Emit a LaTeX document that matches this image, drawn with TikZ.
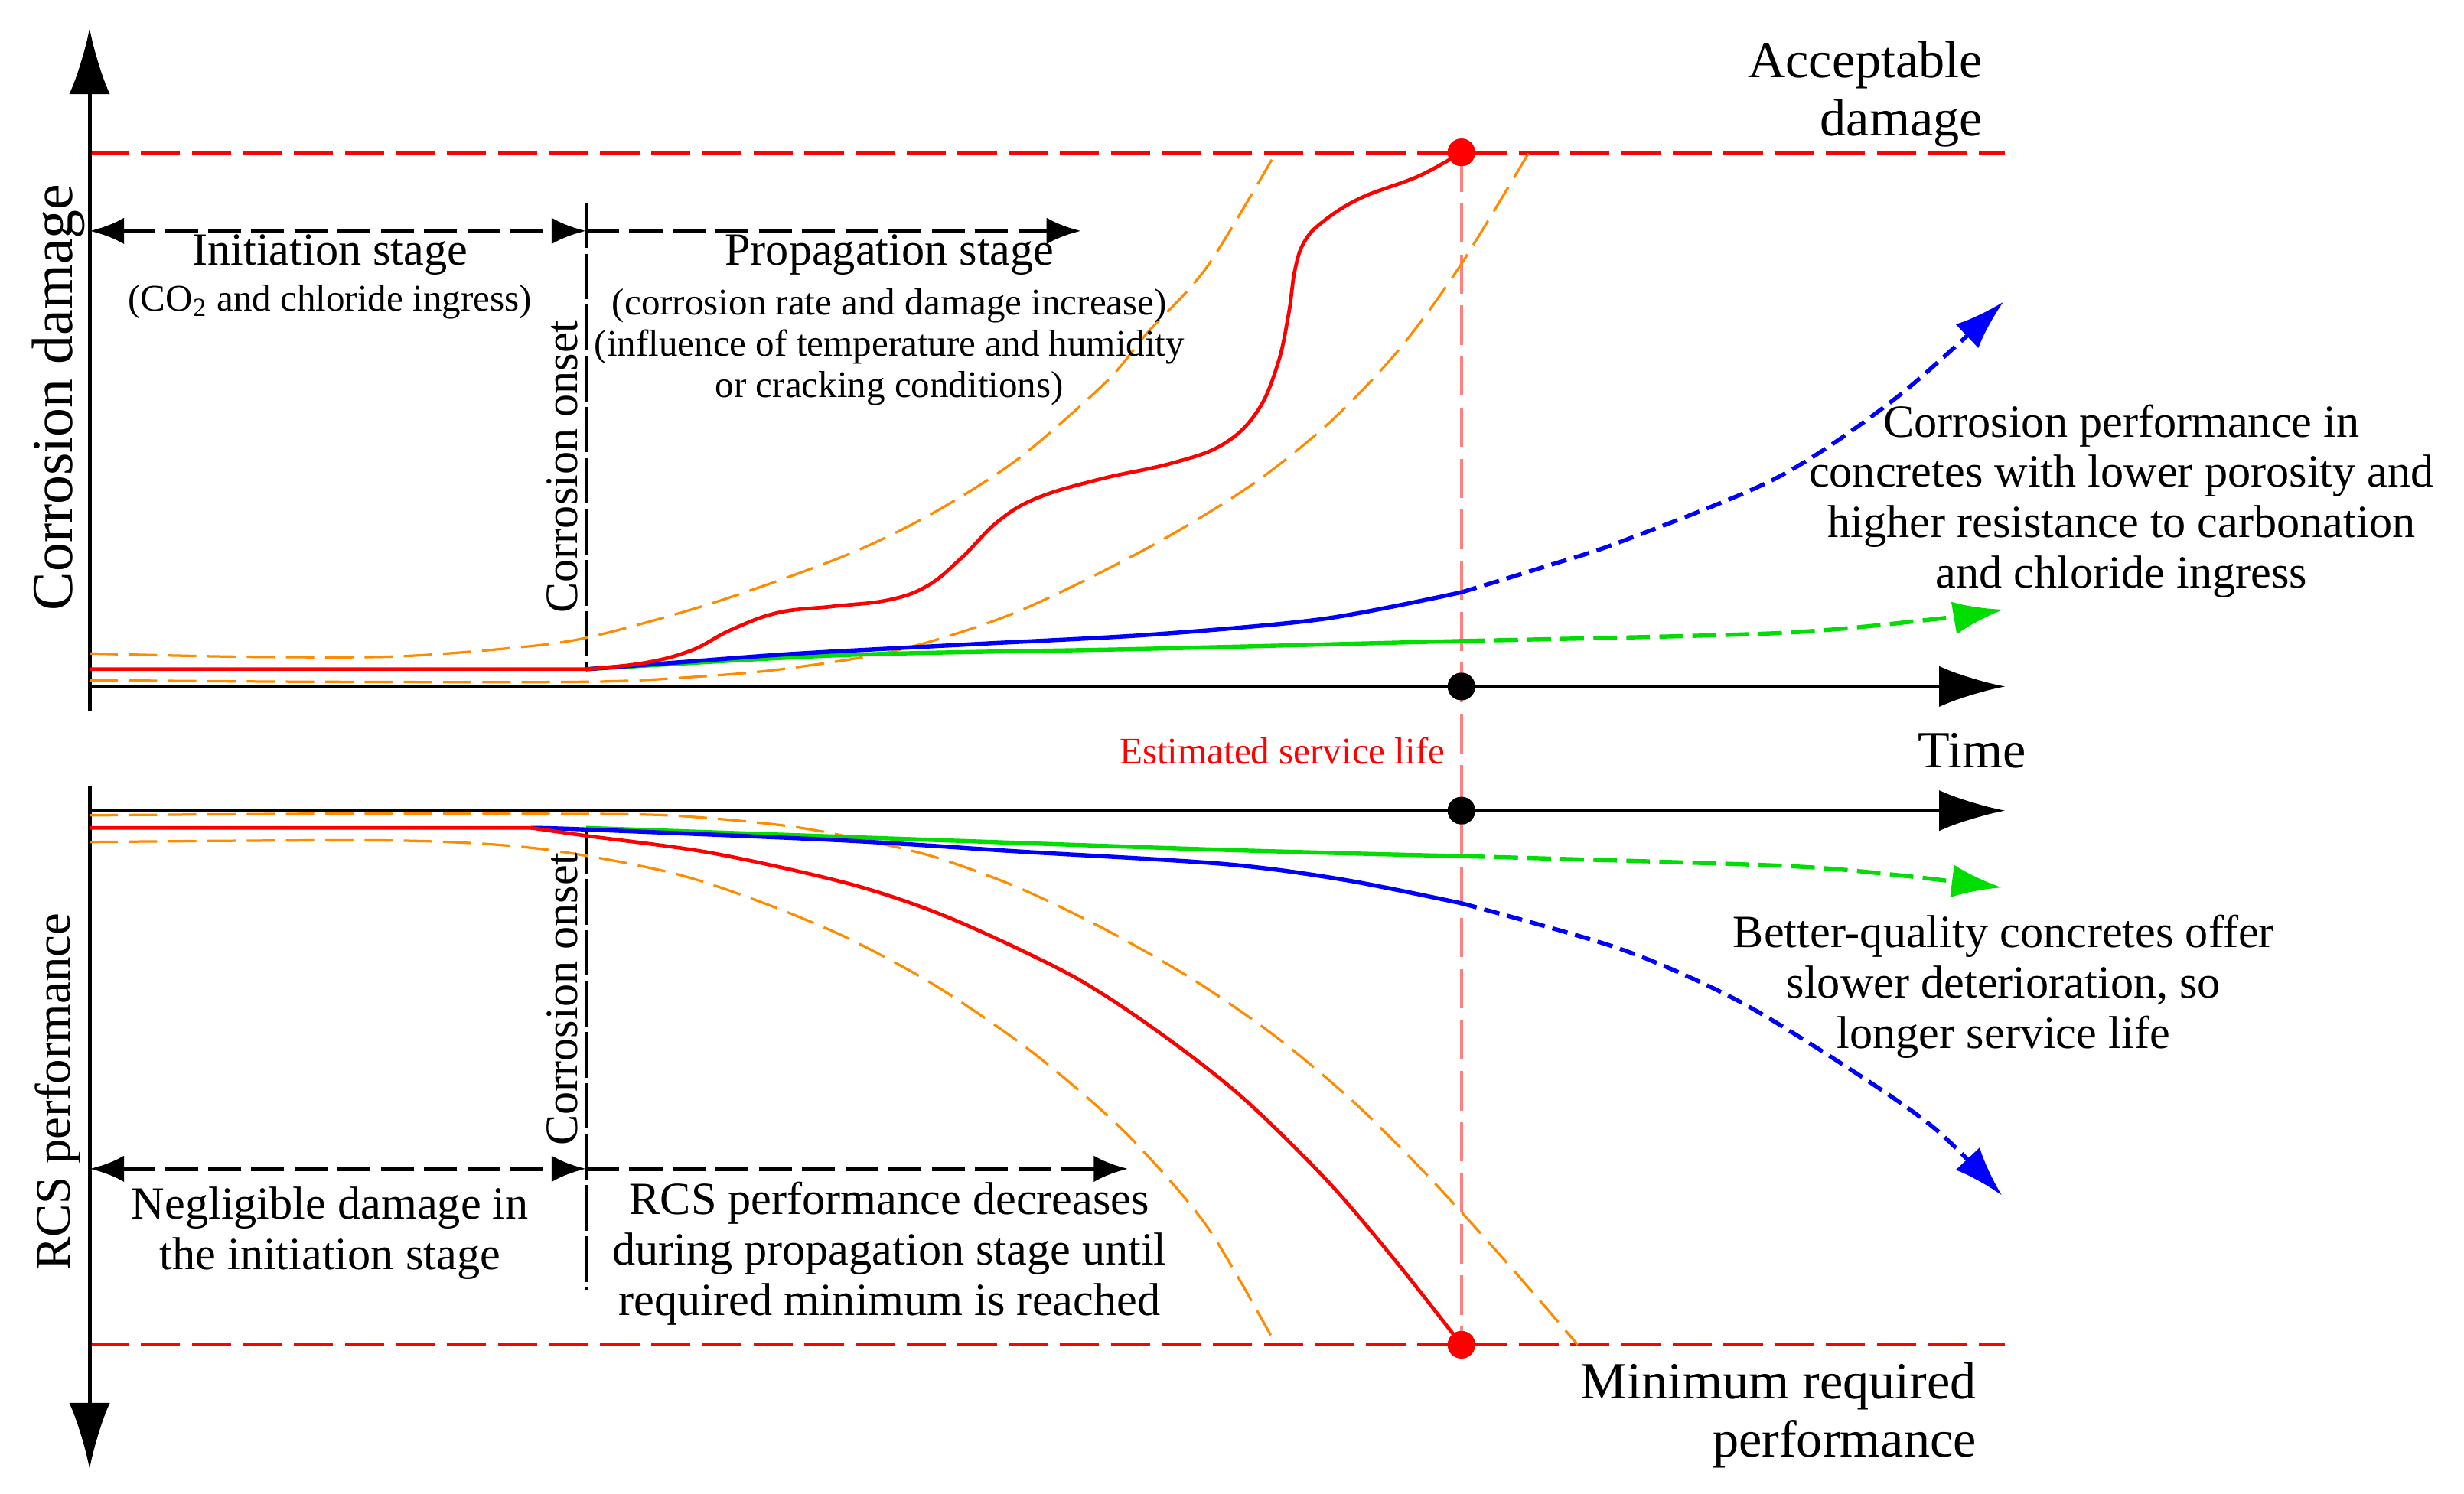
\documentclass[tikz,border=0pt]{standalone}
\usepackage{fontspec}
\setmainfont{Liberation Serif}
\usetikzlibrary{arrows.meta,positioning}

\definecolor{bandorange}{HTML}{FF8C00}
\definecolor{goodgreen}{HTML}{00DD00}
\definecolor{lifepink}{HTML}{FF8080}

\tikzset{txt/.style = {font=\fontsize{16.7}{18.2}\selectfont, align=center, inner sep=0pt}}

\begin{document}
\begin{tikzpicture}[x=0.02cm, y=-0.02cm]
    % Define line styles
    \tikzstyle{axis} = [line width=1.4pt, -{Latex[length=0.84cm,width=0.52cm]}]
    \tikzstyle{limit} = [red, line width=1.4pt, dash pattern=on 0.5cm off 0.15cm]
    \tikzstyle{onset} = [line width=1pt, dash pattern=on 0.58cm off 0.07cm]
    \tikzstyle{stage} = [line width=1.8pt, dash pattern=on 0.42cm off 0.13cm]
    \tikzstyle{band} = [bandorange, line width=0.9pt, dash pattern=on 0.36cm off 0.14cm]
    \tikzstyle{mean} = [red, line width=1.3pt]
    \tikzstyle{better} = [line width=1.5pt]
    \tikzstyle{dot} = [circle, fill, inner sep=0pt, minimum size=0.35cm]
    \tikzstyle{bigtxt} = [font=\fontsize{18.9}{21}\selectfont, inner sep=0pt]
    \tikzstyle{smalltxt} = [font=\fontsize{13.6}{15}\selectfont, align=center, inner sep=0pt]
    \tikzset{stagetip/.tip={Latex[length=0.44cm,width=0.34cm]},
             curvetip/.tip={Latex[length=0.64cm,width=0.42cm]}}

    \useasboundingbox (0,0) rectangle (1568,951);

    % Axis end points
    \coordinate (yT0) at (57,453);
    \coordinate (yT1) at (57,18);
    \coordinate (yB0) at (57,500);
    \coordinate (yB1) at (57,935);
    \coordinate (xT0) at (57,437);
    \coordinate (xT1) at (1276,437);
    \coordinate (xB0) at (57,516);
    \coordinate (xB1) at (1276,516);
    \coordinate (accL) at (57,97);
    \coordinate (accR) at (1276,97);
    \coordinate (minL) at (57,856);
    \coordinate (minR) at (1276,856);
    \coordinate (onT0) at (373,129);
    \coordinate (onT1) at (373,427);
    \coordinate (onB0) at (373,527);
    \coordinate (onB1) at (373,821);
    \coordinate (stT0) at (57,147);
    \coordinate (stT1) at (373,147);
    \coordinate (stT2) at (688,147);
    \coordinate (stB0) at (57,744);
    \coordinate (stB1) at (373,744);
    \coordinate (stB2) at (718,744);

    % Service life points
    \node[dot, red] (slAcc) at (930,97) {};
    \node[dot] (slTop) at (930,437) {};
    \node[dot] (slBot) at (930,516) {};
    \node[dot, red] (slMin) at (930,856) {};

    % Axes and limits
    \draw[limit] (accL) -- (accR);
    \draw[limit] (minL) -- (minR);
    \draw[lifepink, line width=1.2pt, dash pattern=on 0.5cm off 0.15cm] (slAcc.center) -- (slMin.center);
    \draw[axis] (yT0) -- (yT1);
    \draw[axis] (yB0) -- (yB1);
    \draw[axis] (xT0) -- (xT1);
    \draw[axis] (xB0) -- (xB1);
    \draw[onset] (onT0) -- (onT1);
    \draw[onset] (onB0) -- (onB1);
    \draw[stage, stagetip-stagetip] (stT0) -- (stT1);
    \draw[stage, -stagetip] (stT1) -- (stT2);
    \draw[stage, stagetip-stagetip] (stB0) -- (stB1);
    \draw[stage, -stagetip] (stB1) -- (stB2);

    % Corrosion damage curves (upper part)
    \draw[band] plot[smooth] coordinates {(57,416) (150,418) (248,418) (320,413) (373,406) (453,384) (537,354) (593,327) (648,292) (704,243) (730,212) (768,170) (812,97)};
    \draw[band] plot[smooth] coordinates {(57,433) (200,434) (373,434) (440,431) (497,426) (571,414) (646,390) (730,349) (796,309) (846,269) (889,224) (928,171) (973,97)};
    \draw[better, goodgreen] plot[smooth] coordinates {(373,426) (537,417) (730,413) (930,408)};
    \draw[better, goodgreen, dash pattern=on 0.3cm off 0.12cm, -curvetip] plot[smooth] coordinates {(930,408) (1131,403) (1232,394) (1275,388)};
    \draw[better, blue] plot[smooth] coordinates {(373,426) (440,421) (508,416) (620,410) (732,404) (842,394) (930,377)};
    \draw[better, blue, dash pattern=on 0.2cm off 0.1cm, -curvetip] plot[smooth] coordinates {(930,377) (982,361) (1031,345) (1131,304) (1207,253) (1275,192)};
    \draw[mean] (57,426) -- (373,426) plot[smooth, tension=0.65] coordinates {(373,426) (410,422) (440,414) (465,401) (495,390) (530,386) (565,382) (590,373) (612,355) (635,332) (660,317) (700,305) (745,295) (778,283) (800,262) (813,232) (820,200) (824,172) (830,154) (842,141) (866,126) (903,112) (930,97)};

    % RCS performance curves (lower part)
    \draw[band] plot[smooth] coordinates {(57,519) (200,518) (341,518) (425,519) (495,525) (537,532) (593,545) (648,565) (704,592) (760,624) (812,660) (862,702) (910,750) (960,805) (1004,856)};
    \draw[band] plot[smooth] coordinates {(57,536) (248,535) (341,540) (425,555) (481,573) (537,596) (593,626) (648,663) (690,697) (725,730) (769,782) (812,856)};
    \draw[better, goodgreen] plot[smooth] coordinates {(373,527) (546,533) (779,541) (930,545)};
    \draw[better, goodgreen, dash pattern=on 0.3cm off 0.12cm, -curvetip] plot[smooth] coordinates {(930,545) (1131,551) (1207,557) (1274,565)};
    \draw[better, blue] plot[smooth] coordinates {(338,527) (373,528) (537,535) (648,542) (779,550) (855,560) (930,575)};
    \draw[better, blue, dash pattern=on 0.2cm off 0.1cm, -curvetip] plot[smooth] coordinates {(930,575) (1031,604) (1106,637) (1181,683) (1232,719) (1274,761)};
    \draw[mean] (57,527) -- (338,527) plot[smooth] coordinates {(338,527) (373,532) (453,543) (542,563) (606,585) (682,621) (736,656) (790,698) (845,752) (890,805) (930,856)};

    % Dots on top of the curves
    \node[dot, red] at (slAcc) {};
    \node[dot] at (slTop) {};
    \node[dot] at (slBot) {};
    \node[dot, red] at (slMin) {};

    % Axis labels
    \node[rotate=90, font=\fontsize{21}{24}\selectfont] (yLabTop) at (37,253) {Corrosion damage};
    \node[rotate=90, font=\fontsize{18}{21}\selectfont] (yLabBot) at (37,695) {RCS performance};
    \node[rotate=90, font=\fontsize{16.7}{19}\selectfont] (onLabTop) at (358,297) {Corrosion onset};
    \node[rotate=90, font=\fontsize{16.7}{19}\selectfont] (onLabBot) at (358,636) {Corrosion onset};
    \node[bigtxt] (time) at (1255,478) {Time};
    \node[smalltxt, red] (life) at (816,478) {Estimated service life};
    \node[bigtxt, align=right, anchor=east] (acc) at (1262,60) {Acceptable\\damage};
    \node[bigtxt, align=right, anchor=east] (min) at (1258,901) {Minimum required\\performance};

    % Stage labels
    \node[txt] (init) at (210,162) {Initiation stage};
    \node[smalltxt] (initSub) at (210,192) {(CO\textsubscript{2} and chloride ingress)};
    \node[txt] (prop) at (566,162) {Propagation stage};
    \node[smalltxt] (propSub) [below=0.16cm of prop] {(corrosion rate and damage increase)\\(influence of temperature and humidity\\or cracking conditions)};
    \node[txt] (negl) at (210,785) {Negligible damage in\\the initiation stage};
    \node[txt] (decr) at (566,798) {RCS performance decreases\\during propagation stage until\\required minimum is reached};

    % Comments on better concretes
    \node[txt] (corrPerf) at (1350,319) {Corrosion performance in\\concretes with lower porosity and\\higher resistance to carbonation\\and chloride ingress};
    \node[txt] (betterQ) at (1275,628) {Better-quality concretes offer\\slower deterioration, so\\longer service life};
\end{tikzpicture}
\end{document}
